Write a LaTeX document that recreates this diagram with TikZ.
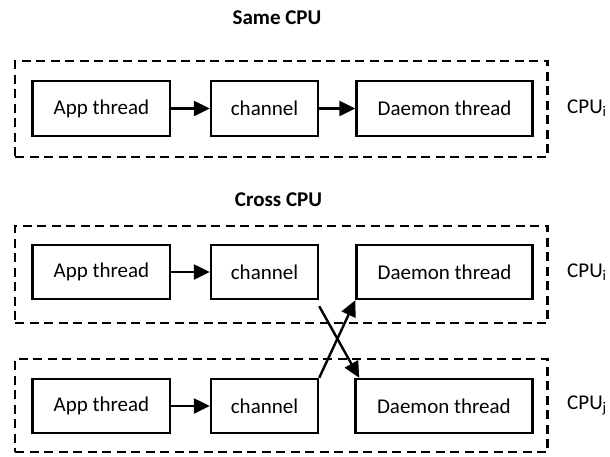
\documentclass[tikz,border=0pt]{standalone}
\usepackage{fontspec}
\setmainfont{Carlito}
\usetikzlibrary{arrows.meta}
\begin{document}
\begin{tikzpicture}[x=1pt,y=-1pt,
  font=\fontsize{21}{25}\selectfont,
  box/.style={draw,line width=2.4pt,rectangle,inner sep=0pt},
  cpubox/.style={draw,line width=2.4pt,dash pattern=on 9pt off 5.5pt,rectangle,inner sep=0pt,minimum width=532.5pt},
  flow/.style={line width=2.4pt,-{Triangle[length=16pt,width=15pt]}},
  title/.style={font=\fontsize{21}{25}\selectfont\bfseries},
  cpulabel/.style={anchor=west,inner sep=0pt}]
\useasboundingbox (0,0) rectangle (610,456);

% --- Same CPU ---
\node[title] (t1) at (277,18) {Same CPU};
\node[cpubox,minimum height=96pt] (c0) at (281.4,109) {};
\node[box,minimum width=137.5pt,minimum height=55pt] (a0) at (101.4,108.5) {App thread};
\node[box,minimum width=107pt,minimum height=55pt] (h0) at (264.5,108.5) {channel};
\node[box,minimum width=176pt,minimum height=55pt] (d0) at (444.5,108.5) {Daemon thread};
\node[cpulabel] (l0) at (567,108) {CPU\textsubscript{i}};
\draw[flow] (a0) -- (h0);
\draw[flow] (h0) -- (d0);

% --- Cross CPU ---
\node[title] (t2) at (278.5,200) {Cross CPU};
\node[cpubox,minimum height=97pt] (c1) at (281.4,274.5) {};
\node[cpubox,minimum height=93pt] (c2) at (281.4,405.5) {};

\node[box,minimum width=137.5pt,minimum height=54pt] (a1) at (101.4,272) {App thread};
\node[box,minimum width=107pt,minimum height=54pt] (h1) at (264.5,272) {channel};
\node[box,minimum width=176pt,minimum height=54pt] (d1) at (444.5,272) {Daemon thread};
\node[cpulabel] (l1) at (567,272) {CPU\textsubscript{i}};

\node[box,minimum width=137.5pt,minimum height=54pt] (a2) at (101.4,406) {App thread};
\node[box,minimum width=107pt,minimum height=54pt] (h2) at (264.5,406) {channel};
\node[box,minimum width=177pt,minimum height=54pt] (d2) at (443.9,406) {Daemon thread};
\node[cpulabel] (l2) at (567,405) {CPU\textsubscript{j}};

\draw[flow] (a1) -- (h1);
\draw[flow] (a2) -- (h2);
\draw[flow] ([yshift=-6pt]h1.south east) -- ([xshift=5pt]d2.north west);
\draw[flow] (h2.north east) -- (d1.south west);
\end{tikzpicture}
\end{document}
